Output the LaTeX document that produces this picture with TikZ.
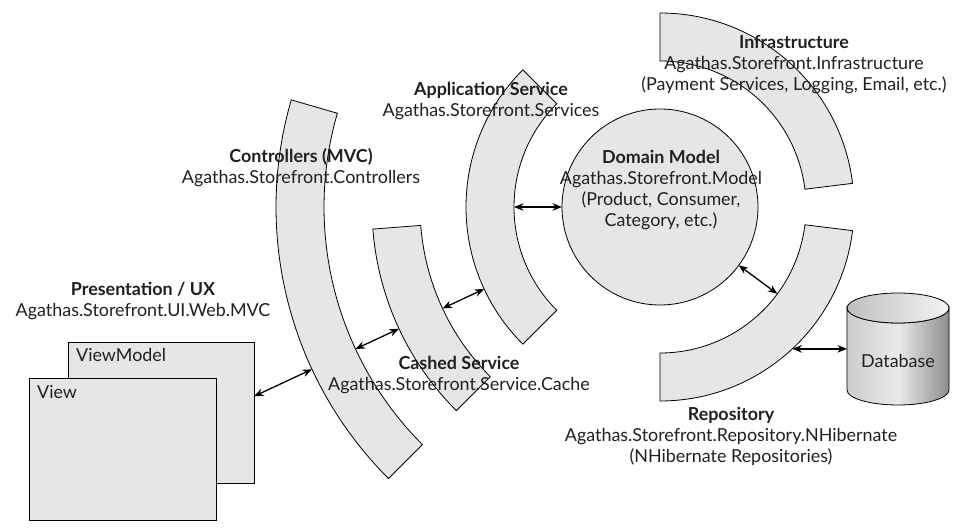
\documentclass[tikz,border=0pt]{standalone}
\usepackage{fontspec}
\setmainfont{Lato}
\usetikzlibrary{calc,arrows.meta}
\definecolor{fillg}{HTML}{E6E6E6}
\definecolor{txt}{HTML}{231F20}
\begin{document}
\begin{tikzpicture}[x=1pt,y=-1pt,
  ring/.style={draw=black, fill=fillg, line width=0.8pt},
  box/.style={draw=black, fill=fillg, line width=0.8pt, inner sep=0pt},
  lbl/.style={font=\fontsize{17.9}{20.7}\selectfont, align=center, text=txt, inner sep=0pt},
  boxtxt/.style={font=\fontsize{17.9}{20.7}\selectfont, text=txt, inner sep=0pt, anchor=west},
  dbl/.style={{Stealth[length=9.5pt,width=7.5pt]}-{Stealth[length=9.5pt,width=7.5pt]}, line width=1.3pt, draw=black}]
\useasboundingbox[fill=white] (0,0) rectangle (975,529);
\coordinate (C) at (660,207);
% Controllers ring
\path[ring] ($(C)+(196.2:384)$) arc[start angle=196.2, end angle=135, radius=384]
  -- ($(C)+(135:336)$) arc[start angle=135, end angle=196.2, radius=336] -- cycle;
% Cashed service ring
\path[ring] ($(C)+(175.6:288)$) arc[start angle=175.6, end angle=135, radius=288]
  -- ($(C)+(135:240)$) arc[start angle=135, end angle=175.6, radius=240] -- cycle;
% Application service ring
\path[ring] ($(C)+(225:194)$) arc[start angle=225, end angle=135, radius=194]
  -- ($(C)+(135:146)$) arc[start angle=135, end angle=225, radius=146] -- cycle;
% Infrastructure ring
\path[ring] ($(C)+(-90:194)$) arc[start angle=-90, end angle=-7, radius=194]
  -- ($(C)+(-7:146)$) arc[start angle=-7, end angle=-90, radius=146] -- cycle;
% Repository ring
\path[ring] ($(C)+(7:194)$) arc[start angle=7, end angle=90, radius=194]
  -- ($(C)+(90:146)$) arc[start angle=90, end angle=7, radius=146] -- cycle;
% Domain model circle
\node[draw=black, fill=fillg, line width=0.8pt, circle, minimum size=196pt, inner sep=0pt] (dom) at (C) {};
% Boxes
\node[box, minimum width=186pt, minimum height=141pt] (vm) at (161,412.5) {};
\node[boxtxt] (vmt) at (76,355) {ViewModel};
\node[box, minimum width=187pt, minimum height=142pt] (view) at (122.5,449) {};
\node[boxtxt] (viewt) at (37,392) {View};
% Database cylinder
\shade[left color=black!20, right color=black!45, middle color=black!8, draw=black, line width=0.8pt]
  (847,308) -- (847,390) arc[start angle=180, end angle=0, x radius=51, y radius=15]
  -- (949,308) arc[start angle=0, end angle=180, x radius=51, y radius=15] -- cycle;
\shade[left color=black!25, right color=black!4, draw=black, line width=0.8pt]
  (898,308) ellipse[x radius=51, y radius=15];
\node[lbl, minimum width=102pt, minimum height=60pt] (db) at (898,361) {Database};
% Arrow end points
\coordinate (vmR) at ($(C)+(155:448)$);
\coordinate (ctrlO) at ($(C)+(155:384)$);
\coordinate (ctrlI) at ($(C)+(155:336)$);
\coordinate (cashO) at ($(C)+(155:288)$);
\coordinate (cashI) at ($(C)+(155:240)$);
\coordinate (appO) at ($(C)+(155:194)$);
\coordinate (appI) at ($(C)+(180:146)$);
\coordinate (domL) at ($(C)+(180:98)$);
\coordinate (domR) at ($(C)+(36.5:98)$);
\coordinate (repoI) at ($(C)+(36.5:146)$);
\coordinate (repoO) at ($(C)+(47:194)$);
\coordinate (dbL) at (847,0);
% Arrows
\draw[dbl] (vmR) -- (ctrlO);
\draw[dbl] (ctrlI) -- (cashO);
\draw[dbl] (cashI) -- (appO);
\draw[dbl] (appI) -- (domL);
\draw[dbl] (domR) -- (repoI);
\draw[dbl] (repoO) -- (repoO -| dbL);
% Labels
\node[lbl] (infra) at (794,64.5) {\textbf{Infrastructure}\\Agathas.Storefront.Infrastructure\\(Payment Services, Logging, Email, etc.)};
\node[lbl] (app) at (491,101) {\textbf{Application Service}\\Agathas.Storefront.Services};
\node[lbl] (domt) at (661,190) {\textbf{Domain Model}\\Agathas.Storefront.Model\\(Product, Consumer,\\Category, etc.)};
\node[lbl] (ctrl) at (301,167.5) {\textbf{Controllers (MVC)}\\Agathas.Storefront.Controllers};
\node[lbl] (pres) at (143,301) {\textbf{Presentation / UX}\\Agathas.Storefront.UI.Web.MVC};
\node[lbl] (cash) at (459,375) {\textbf{Cashed Service}\\Agathas.Storefront.Service.Cache};
\node[lbl] (repo) at (731,436.5) {\textbf{Repository}\\Agathas.Storefront.Repository.NHibernate\\(NHibernate Repositories)};
\end{tikzpicture}
\end{document}
